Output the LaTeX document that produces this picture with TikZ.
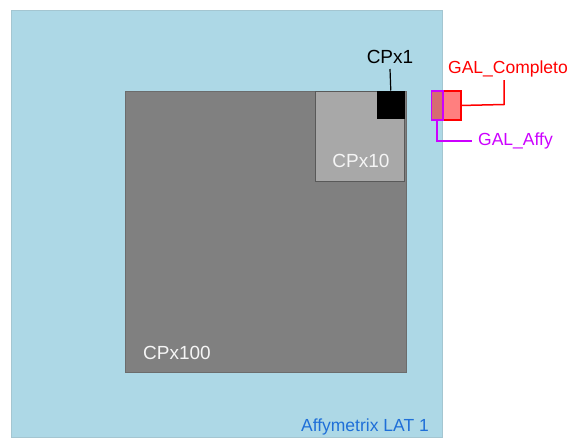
\documentclass[tikz,border=0pt]{standalone}
\usepackage{fontspec}
\setmainfont{Liberation Sans}
\definecolor{bluebg}{HTML}{ADD8E6}
\definecolor{magentaline}{HTML}{CC00FF}
\definecolor{labelblue}{HTML}{1F6FD8}
\definecolor{midgrey}{HTML}{A8A8A8}
\begin{document}
\begin{tikzpicture}[x=1pt,y=-1pt,
  txt/.style={font=\fontsize{17.5}{20}\selectfont, inner sep=0pt},
  bigtxt/.style={font=\fontsize{19}{22}\selectfont, inner sep=0pt},
  box/.style={draw, line width=0.8pt}]
\useasboundingbox (0,0) rectangle (567,437);
\fill[white] (0,0) rectangle (567,437);
% light blue background
\path[fill=bluebg, draw=bluebg!80!gray, line width=0.6pt] (11,10) rectangle (442,437.5);
\node[txt, text=labelblue, anchor=base east] (lat) at (429,431) {Affymetrix LAT 1};
% CPx100
\node[box, draw=gray!85!black, fill=gray, minimum width=281pt, minimum height=281pt, inner sep=0pt, anchor=north west] (cp100) at (124.5,90.5) {};
\node[bigtxt, text=white!92!gray, anchor=base west] (cp100t) at (143,359.5) {CPx100};
% CPx10
\node[box, draw=gray!70!black, fill=midgrey, minimum width=89pt, minimum height=90.5pt, inner sep=0pt, anchor=north east] (cp10) at (405,90.5) {};
\node[bigtxt, text=white!92!gray] (cp10t) at (361,161) {CPx10};
% CPx1
\node[fill=black, minimum width=28pt, minimum height=28.5pt, inner sep=0pt, anchor=north east] (cp1) at (405,90.5) {};
\node[bigtxt] (cp1t) at (390,57) {CPx1};
\draw[line width=1.2pt] (cp1.north) -- (cp1t.south |- 0,69);
% GAL_Completo
\node[draw=red, fill=red, fill opacity=0.5, draw opacity=1, line width=1.8pt, minimum width=29.5pt, minimum height=28.5pt, inner sep=0pt, anchor=north west] (galc) at (430.5,90.3) {};
\node[txt, text=red] (galct) at (508,69) {GAL\_Completo};
\coordinate (cc) at (504,104.5);
\draw[red, line width=1.5pt] (galc.east) -- (cc) -- (cc |- 0,80);
% GAL_Affy
\node[draw=magentaline, line width=1.8pt, minimum width=11.5pt, minimum height=28.5pt, inner sep=0pt, anchor=north west] (gala) at (430.5,90.3) {};
\node[txt, text=magentaline, anchor=west] (galat) at (478,141) {GAL\_Affy};
\coordinate (ac) at (437,141);
\draw[magentaline, line width=1.5pt] (gala.south -| ac) -- (ac) -- (472,141);
\end{tikzpicture}
\end{document}
